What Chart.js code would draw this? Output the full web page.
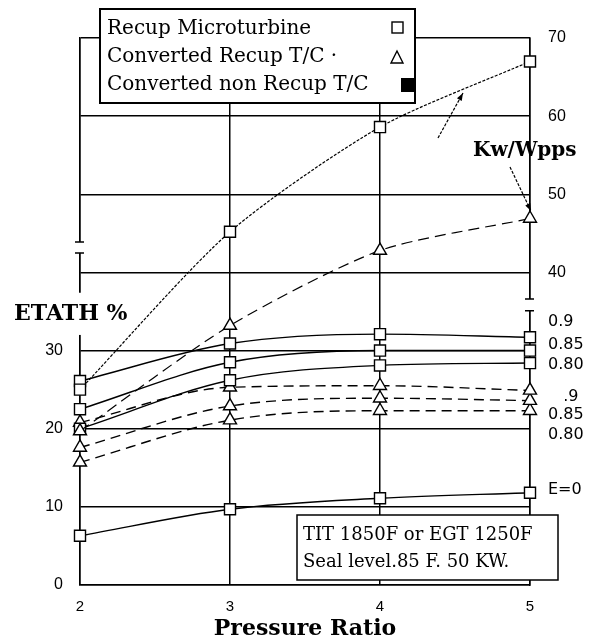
<!DOCTYPE html>
<html>
<head>
<meta charset="utf-8">
<script src="https://cdn.jsdelivr.net/npm/chart.js@4/dist/chart.umd.min.js"></script>
<style>
  html, body { margin: 0; padding: 0; background: #fff; }
  #wrap { width: 598px; height: 643px; }
</style>
</head>
<body>
<div id="wrap"><canvas id="perfChart" width="598" height="643"></canvas></div>
<script>
// pressure ratio on x, values in ETATH % units (Kw/Wpps shares the same grid above 40)
const pressureRatio = [2, 3, 4, 5];

const recupKwWpps = [25.0, 45.2, 58.6, 67.0];
const convKwWpps = [19.7, 33.2, 42.8, 46.9];

const recupEta90 = [26.1, 30.9, 32.1, 31.7];
const recupEta85 = [22.5, 28.5, 30.0, 30.0];
const recupEta80 = [20.0, 26.2, 28.1, 28.4];
const recupEta0 = [6.3, 9.7, 11.1, 11.8];

const convEta90 = [20.8, 25.3, 25.5, 24.9];
const convEta85 = [17.6, 22.9, 23.9, 23.6];
const convEta80 = [15.7, 21.1, 22.3, 22.3];

const leftTickValues = [0, 10, 20, 30];
const rightTickValues = [70, 60, 50, 40, 33.7, 30.7, 28.2, 24.1, 21.8, 19.2, 12.2];
const rightTickLabels = ["70", "60", "50", "40", "0.9", "0.85", "0.80", "   .9", "0.85", "0.80", "E=0"];

const legendLabels = ["Recup Microturbine", "Converted Recup T/C \u00b7", "Converted non Recup T/C"];
const noteLines = ["TIT 1850F or EGT 1250F", "Seal level.85 F. 50 KW."];

function pts(values) {
  return values.map((v, i) => ({ x: pressureRatio[i], y: v }));
}

function series(values, opts) {
  return Object.assign({
    data: pts(values),
    borderColor: "#000",
    borderWidth: 1.4,
    pointBackgroundColor: "#fff",
    pointBorderColor: "#000",
    pointBorderWidth: 1.4,
    cubicInterpolationMode: "monotone",
    clip: false,
    fill: false
  }, opts);
}

const squarePt = { pointStyle: "rect", pointRadius: 7.8 };
const trianglePt = { pointStyle: "triangle", pointRadius: 7.5 };

const decorations = {
  id: "decorations",
  afterDraw(chart) {
    const ctx = chart.ctx;
    const ys = chart.scales.y;
    const area = chart.chartArea;
    const L = area.left, R = area.right;
    ctx.save();
    ctx.strokeStyle = "#000";
    ctx.fillStyle = "#000";

    // axis breaks
    function gap(xp, v1, v2, caps) {
      const p1 = ys.getPixelForValue(v1), p2 = ys.getPixelForValue(v2);
      ctx.fillStyle = "#fff";
      ctx.fillRect(xp - 3, p1, 6, p2 - p1);
      if (caps) {
        ctx.lineWidth = 1.5;
        ctx.beginPath();
        ctx.moveTo(xp - 5, p1); ctx.lineTo(xp + 4, p1);
        ctx.moveTo(xp - 5, p2); ctx.lineTo(xp + 4, p2);
        ctx.stroke();
      }
    }
    gap(L, 43.9, 42.5, true);
    gap(L, 37.4, 32.0, false);
    gap(R, 36.6, 35.1, true);

    // axis names
    ctx.fillStyle = "#000";
    ctx.textBaseline = "middle";
    ctx.textAlign = "left";
    ctx.font = "bold 22px 'DejaVu Serif'";
    ctx.fillText("ETATH %", 14, ys.getPixelForValue(34.6));
    ctx.font = "bold 20px 'DejaVu Serif'";
    ctx.fillText("Kw/Wpps", 473, ys.getPixelForValue(55.6));

    // arrows from Kw/Wpps label
    function arrow(x1, y1, x2, y2) {
      ctx.lineWidth = 1.2;
      ctx.setLineDash([3, 1.5]);
      ctx.beginPath();
      ctx.moveTo(x1, y1); ctx.lineTo(x2, y2);
      ctx.stroke();
      ctx.setLineDash([]);
      const a = Math.atan2(y2 - y1, x2 - x1);
      ctx.beginPath();
      ctx.moveTo(x2, y2);
      ctx.lineTo(x2 - 8 * Math.cos(a - 0.35), y2 - 8 * Math.sin(a - 0.35));
      ctx.lineTo(x2 - 8 * Math.cos(a + 0.35), y2 - 8 * Math.sin(a + 0.35));
      ctx.closePath();
      ctx.fill();
    }
    arrow(438, 138, 463, 93);
    arrow(510, 167, 531, 211);

    // legend box
    ctx.fillStyle = "#fff";
    ctx.fillRect(100, 9, 315, 94);
    ctx.lineWidth = 2;
    ctx.strokeRect(100, 9, 315, 94);
    ctx.fillStyle = "#000";
    ctx.font = "20px 'DejaVu Serif'";
    legendLabels.forEach((t, i) => ctx.fillText(t, 107, 29 + i * 28));
    ctx.lineWidth = 1.4;
    ctx.fillStyle = "#fff";
    ctx.fillRect(392, 22, 11, 11);
    ctx.strokeRect(392, 22, 11, 11);
    ctx.beginPath();
    ctx.moveTo(397, 51); ctx.lineTo(403, 63); ctx.lineTo(391, 63); ctx.closePath();
    ctx.fill(); ctx.stroke();
    ctx.fillStyle = "#000";
    ctx.fillRect(401, 78, 13, 14);

    // condition note
    ctx.fillStyle = "#fff";
    ctx.fillRect(297, 515, 261, 65);
    ctx.lineWidth = 1.5;
    ctx.strokeRect(297, 515, 261, 65);
    ctx.fillStyle = "#000";
    ctx.font = "18px 'DejaVu Serif'";
    ctx.fillText(noteLines[0], 303, 535);
    ctx.fillText(noteLines[1], 303, 562);
    ctx.restore();
  }
};

const ctx = document.getElementById("perfChart").getContext("2d");
new Chart(ctx, {
  type: "line",
  data: {
    datasets: [
      series(recupKwWpps, Object.assign({ label: "Recup Kw/Wpps", borderDash: [3, 1.5], borderWidth: 1.2, cubicInterpolationMode: "default", tension: 0.25 }, squarePt)),
      series(convKwWpps, Object.assign({ label: "Conv Kw/Wpps", borderDash: [11, 6], borderWidth: 1.2, cubicInterpolationMode: "default", tension: 0.25 }, trianglePt)),
      series(recupEta90, Object.assign({ label: "Recup E=0.9" }, squarePt)),
      series(recupEta85, Object.assign({ label: "Recup E=0.85" }, squarePt)),
      series(recupEta80, Object.assign({ label: "Recup E=0.80" }, squarePt)),
      series(recupEta0, Object.assign({ label: "Recup E=0" }, squarePt)),
      series(convEta90, Object.assign({ label: "Conv E=0.9", borderDash: [10, 6] }, trianglePt)),
      series(convEta85, Object.assign({ label: "Conv E=0.85", borderDash: [10, 6] }, trianglePt)),
      series(convEta80, Object.assign({ label: "Conv E=0.80", borderDash: [10, 6] }, trianglePt))
    ]
  },
  options: {
    responsive: false,
    animation: false,
    layout: { padding: { top: 38, left: 0, right: 0, bottom: 0 } },
    plugins: {
      legend: { display: false },
      tooltip: { enabled: false }
    },
    scales: {
      x: {
        type: "linear",
        min: 2,
        max: 5,
        afterFit: (s) => { s.height = 58; },
        afterBuildTicks: (s) => { s.ticks = pressureRatio.map((v) => ({ value: v })); },
        ticks: {
          color: "#000",
          padding: 13,
          font: { family: "'Liberation Sans'", size: 15 },
          callback: (v) => String(v)
        },
        grid: { color: "#000", lineWidth: 1.5, drawTicks: false },
        border: { color: "#000", width: 1.5 },
        title: {
          display: true,
          text: "Pressure Ratio",
          color: "#000",
          font: { family: "'DejaVu Serif'", size: 22, weight: "bold" },
          padding: { top: 0, bottom: 1 }
        }
      },
      y: {
        min: 0,
        max: 70,
        afterFit: (s) => { s.width = 80; },
        ticks: {
          stepSize: 10,
          color: "#000",
          padding: 17,
          font: { family: "'Liberation Sans'", size: 16 },
          callback: (v) => (leftTickValues.includes(v) ? String(v) : "")
        },
        grid: { color: "#000", lineWidth: 1.5, drawTicks: false },
        border: { color: "#000", width: 1.5 }
      },
      y2: {
        position: "right",
        min: 0,
        max: 70,
        afterFit: (s) => { s.width = 68; },
        afterBuildTicks: (s) => { s.ticks = rightTickValues.map((v) => ({ value: v })); },
        ticks: {
          color: "#000",
          padding: 18,
          autoSkip: false,
          font: (c) => {
            const i = c.index;
            return i < 4
              ? { family: "'Liberation Sans'", size: 16 }
              : { family: "'DejaVu Sans'", size: 16 };
          },
          callback: (v, i) => rightTickLabels[i]
        },
        grid: { display: false, drawTicks: false },
        border: { color: "#000", width: 1.5 }
      }
    }
  },
  plugins: [decorations]
});
</script>
</body>
</html>
